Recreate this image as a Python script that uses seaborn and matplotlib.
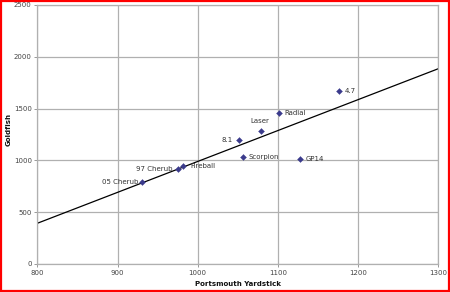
import numpy as np
import pandas as pd
import matplotlib
matplotlib.use("Agg")
import matplotlib.pyplot as plt
import seaborn as sns
from matplotlib.patches import Rectangle

boats = ["05 Cherub", "97 Cherub", "Fireball", "8.1", "Laser", "Radial", "4.7", "Scorpion", "GP14"]
yardstick = [931, 976, 982, 1051, 1079, 1101, 1176, 1057, 1128]
goldfish = [795, 917, 943, 1197, 1281, 1460, 1673, 1030, 1010]
trend_x = [800, 1300]
trend_y = [393, 1885]

df = pd.DataFrame({"boat": boats, "py": yardstick, "gf": goldfish})

sns.set_theme(style="white")
plt.rcParams['font.family'] = ['DejaVu Sans']

fig = plt.figure(figsize=(4.5, 2.92), dpi=100)
ax = fig.add_axes([37.3/450, 1-264/292, (438.3-37.3)/450, (264-5)/292])

ax.plot(trend_x, trend_y, color="black", lw=0.9, zorder=2)
sns.scatterplot(data=df, x="py", y="gf", marker="D", s=9, color="#3b3b8c",
                edgecolor="#3b3b8c", linewidth=0.3, ax=ax, zorder=3, legend=False)

offsets = {
    "05 Cherub": (-3, 0, "right", "center"),
    "97 Cherub": (-4, 0, "right", "center"),
    "Fireball": (5, 0, "left", "center"),
    "8.1": (-4, 0, "right", "center"),
    "Laser": (-1, 5, "center", "bottom"),
    "Radial": (4, 0, "left", "center"),
    "4.7": (4, 0, "left", "center"),
    "Scorpion": (4, 0, "left", "center"),
    "GP14": (4, 0, "left", "center"),
}
for b, x, y in zip(boats, yardstick, goldfish):
    dx, dy, ha, va = offsets[b]
    ax.annotate(b, (x, y), xytext=(dx, dy), textcoords="offset points",
                ha=ha, va=va, fontsize=5, color="#333333")

ax.set_xlim(800, 1300)
ax.set_ylim(0, 2500)
ax.set_xticks([800, 900, 1000, 1100, 1200, 1300])
ax.set_yticks([0, 500, 1000, 1500, 2000, 2500])
ax.grid(True, color="#b0b0b0", lw=0.9)
ax.set_axisbelow(True)
for s in ax.spines.values():
    s.set_color("#b0b0b0")
    s.set_linewidth(0.9)
ax.tick_params(axis="both", labelsize=5, colors="#444444", length=2, width=0.6, pad=2,
               color="#888888")
ax.tick_params(axis="y", left=True)
ax.tick_params(axis="x", bottom=True)
ax.set_xlabel("Portsmouth Yardstick", fontsize=5, fontweight="bold", color="#111111", labelpad=4)
ax.set_ylabel("Goldfish", fontsize=5, fontweight="bold", color="#111111")
ax.yaxis.label.set_va("center")
ax.yaxis.label.set_ha("center")
ax.yaxis.set_label_coords(-28.5/401, 0.52)

fig.patches.append(Rectangle((0.002, 0.003), 0.996, 0.994, transform=fig.transFigure,
                             fill=False, edgecolor="#ff0000", lw=1.6))

fig.savefig("out.png", dpi=100, facecolor="white")
